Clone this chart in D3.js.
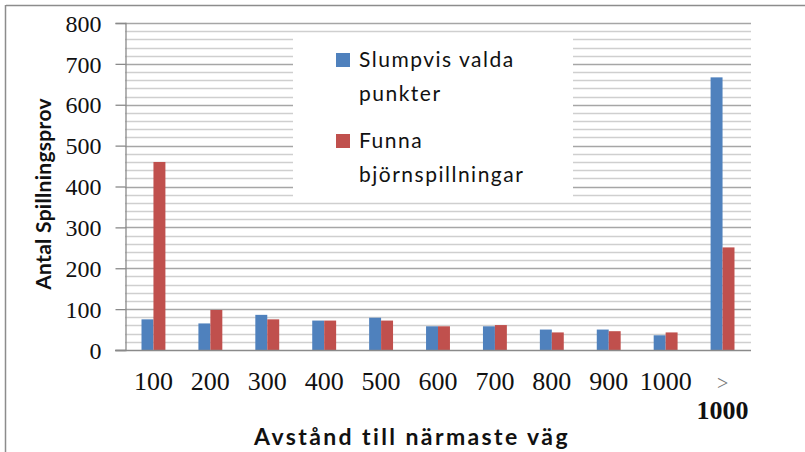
<!DOCTYPE html>
<html><head><meta charset="utf-8">
<script src="https://cdn.jsdelivr.net/npm/d3@7"></script>
<style>
html,body{margin:0;padding:0;background:#fff;}
svg{display:block;}
</style></head>
<body>
<svg id="chart" width="805" height="452"></svg>
<script>
const categories = ["100","200","300","400","500","600","700","800","900","1000","> 1000"];
const seriesNames = ["Slumpvis valda punkter","Funna björnspillningar"];
const slumpvis = [75, 65, 86, 72, 79, 58, 58, 50, 50, 36, 667];
const funna = [460, 98, 75, 72, 72, 58, 61, 43, 46, 43, 251];
const yTicks = [0,100,200,300,400,500,600,700,800];
const colors = ["#4F81BD","#C0504D"];

const svg = d3.select("#chart");
const margin = {left:125, right:805-751, top:23, bottom:452-350};
const W = 805, H = 452;
const x = d3.scaleBand().domain(categories).range([margin.left, W-margin.right]).paddingInner(0.58).paddingOuter(0.29);
const xs = d3.scaleBand().domain([0,1]).range([0, x.bandwidth()]);
const y = d3.scaleLinear().domain([0,800]).range([H-margin.bottom, margin.top]);

// outer frame (top and left visible)
svg.append("line").attr("x1",6).attr("x2",805).attr("y1",5.5).attr("y2",5.5).attr("stroke","#8c8c8c").attr("stroke-width",1.5);
svg.append("line").attr("x1",5.5).attr("x2",5.5).attr("y1",5).attr("y2",452).attr("stroke","#8c8c8c").attr("stroke-width",1.5);

// gridlines: minor every 20, major every 100
const minor = d3.range(20, 800, 20).filter(v => v % 100 !== 0);
svg.append("g").selectAll("line").data(minor).join("line")
  .attr("x1", margin.left).attr("x2", W-margin.right)
  .attr("y1", d => Math.round(y(d))+0.5).attr("y2", d => Math.round(y(d))+0.5)
  .attr("stroke","#cfcfcf").attr("stroke-width",1.3);
svg.append("g").selectAll("line").data(yTicks.filter(v=>v>0)).join("line")
  .attr("x1", margin.left).attr("x2", W-margin.right)
  .attr("y1", d => Math.round(y(d))+0.5).attr("y2", d => Math.round(y(d))+0.5)
  .attr("stroke","#a6a6a6").attr("stroke-width",1.3);

// bars
const data = categories.map((c,i)=>({c, v:[slumpvis[i], funna[i]]}));
const g = svg.append("g");
data.forEach(d=>{
  d.v.forEach((v,j)=>{
    g.append("rect")
      .attr("x", x(d.c)+xs(j)).attr("width", xs.bandwidth())
      .attr("y", y(v)).attr("height", y(0)-y(v))
      .attr("fill", colors[j]);
  });
});

// legend box (white, covers gridlines)
const lg = svg.append("g");
lg.append("rect").attr("x",293).attr("y",33).attr("width",280).attr("height",166).attr("fill","#fff");
const legendLines = [["Slumpvis valda","punkter"],["Funna","björnspillningar"]];
const legendY = [67, 148];
legendLines.forEach((lines,i)=>{
  lg.append("rect").attr("x",336).attr("y",legendY[i]-14).attr("width",14).attr("height",14).attr("fill",colors[i]);
  lines.forEach((t,k)=>{
    lg.append("text").attr("x",359).attr("y",legendY[i]+k*34)
      .attr("font-family","Lato, 'Open Sans', sans-serif").attr("font-size",21)
      .attr("letter-spacing",1.5)
      .attr("fill","#111").text(t);
  });
});

// y axis
const yAxis = d3.axisLeft(y).tickValues(yTicks).tickSize(10).tickPadding(14).tickFormat(d3.format("d"));
const ya = svg.append("g").attr("transform",`translate(${margin.left+0.5},0)`).call(yAxis);
ya.select(".domain").attr("stroke","#8a8a8a").attr("stroke-width",1.3);
ya.selectAll(".tick line").attr("stroke","#8a8a8a").attr("stroke-width",1.3);
ya.selectAll(".tick text").attr("font-family","'Liberation Serif', serif").attr("font-size",24).attr("fill","#111").attr("dy","0.34em");

// x axis
const xAxis = d3.axisBottom(x).tickSize(0).tickPadding(0);
const xa = svg.append("g").attr("transform",`translate(0,${y(0)+0.5})`).call(xAxis);
xa.select(".domain").remove();
xa.selectAll(".tick text").remove();
svg.append("line").attr("x1",margin.left-10).attr("x2",W-margin.right).attr("y1",y(0)+0.5).attr("y2",y(0)+0.5).attr("stroke","#8a8a8a").attr("stroke-width",1.3);
xa.selectAll(".tick").each(function(d){
  const t = d3.select(this).append("text").attr("fill","#111")
    .attr("font-family","'Liberation Serif', serif").attr("font-size",26).attr("text-anchor","middle");
  const parts = d.split(" ");
  if (parts.length === 1) {
    t.append("tspan").attr("x",0).attr("y",39).text(d);
  } else {
    t.append("tspan").attr("x",0).attr("y",39).attr("font-size",20).attr("fill","#777").text(parts[0]);
    t.append("tspan").attr("x",0).attr("y",68).attr("font-weight","bold").text(parts[1]);
  }
});

// axis titles
svg.append("text").attr("x",412).attr("y",445).attr("text-anchor","middle")
  .attr("font-family","Lato, 'Open Sans', sans-serif").attr("font-weight","bold").attr("font-size",23)
  .attr("letter-spacing",2.4)
  .attr("fill","#111").text("Avstånd till närmaste väg");
svg.append("text").attr("transform","translate(51,194) rotate(-90)").attr("text-anchor","middle")
  .attr("font-family","Lato, 'Open Sans', sans-serif").attr("font-weight","bold").attr("font-size",21)
  .attr("letter-spacing",0.3)
  .attr("fill","#111").text("Antal Spillningsprov");
</script>
</body></html>
